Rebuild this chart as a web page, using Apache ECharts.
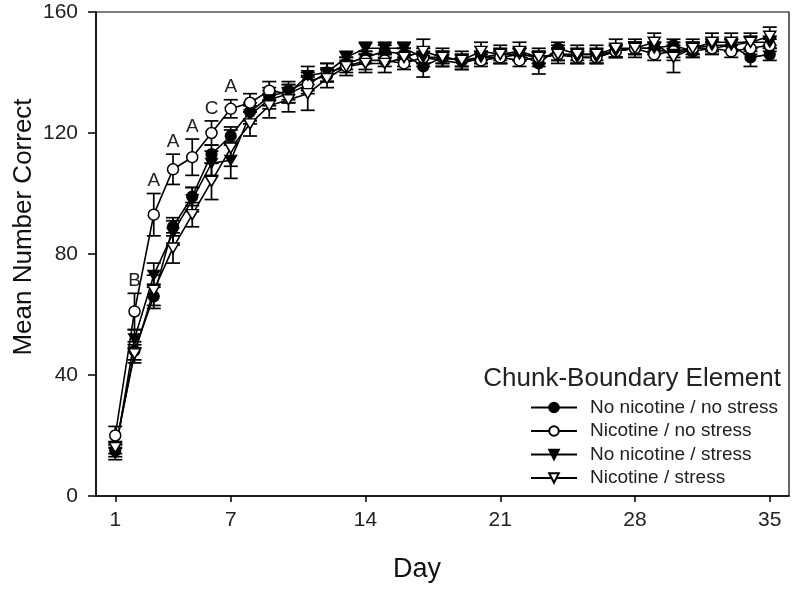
<!DOCTYPE html>
<html>
<head>
<meta charset="utf-8">
<script src="https://cdn.jsdelivr.net/npm/echarts@6/dist/echarts.min.js"></script>
<style>
  html, body { margin: 0; padding: 0; background: #fff; }
  #chart { width: 800px; height: 592px; }
</style>
</head>
<body>
<div id="chart"></div>
<script>
// days 1..35
var days = [];
for (var d = 1; d <= 35; d++) days.push(d);

var xTicks = [1, 7, 14, 21, 28, 35];

// means
var noNicNoStress = [15, 48, 66, 89, 99, 113, 119, 127, 132, 134, 137, 139, 143, 145, 147, 146, 142, 145, 144, 145,
  145, 146, 143, 148, 146, 146, 147, 148, 148, 149, 147, 148, 149, 145, 146];
var nicNoStress = [20, 61, 93, 108, 112, 120, 128, 130, 134, 133, 136, 140, 142, 144, 144, 143, 145, 145, 144, 144,
  145, 144, 145, 146, 145, 145, 147, 148, 146, 147, 148, 148, 147, 148, 149];
var noNicStress = [14, 52, 73, 87, 98, 110, 111, 126, 131, 133, 139, 140, 145, 148, 148, 148, 145, 144, 143, 145,
  146, 146, 145, 146, 145, 145, 147, 148, 148, 146, 148, 149, 149, 150, 150];
var nicStress = [16, 47, 68, 82, 93, 104, 115, 123, 129, 131, 133, 138, 142, 143, 143, 145, 147, 145, 144, 147,
  146, 147, 145, 146, 146, 146, 148, 148, 150, 145, 148, 150, 150, 150, 152];

// error bar half lengths (SEM)
var semNoNicNoStress = [2, 3, 4, 3, 3, 3, 3, 3, 3, 3, 3, 2, 2, 2, 2, 2, 3.5, 2, 2, 2, 2, 2, 3.5, 2, 2, 2, 2, 2, 2, 2, 2, 2, 2, 3, 2];
var semNicNoStress = [3, 6, 7, 5, 6, 4, 3, 3, 3, 3, 3, 3, 2, 3, 2, 2, 2, 2, 2, 2, 2, 2, 2, 2, 2, 2, 2, 2, 2, 2, 2, 2, 2, 2, 2];
var semNoNicStress = [2, 3, 4, 4, 4, 4, 6, 3, 3, 3, 3, 3, 2, 2, 2, 2, 3, 2, 2, 2, 2, 2, 2, 2, 2, 2, 2, 2, 2, 2, 2, 2, 2, 2, 2];
var semNicStress = [2, 3, 5, 5, 4, 6, 6, 4, 4, 4, 5.5, 3, 3, 3, 3, 3, 4, 3, 3, 3, 3, 3, 3, 3, 3, 3, 3, 3, 3, 5, 3, 3, 3, 3, 3];

// significance letters over the nicotine / no stress curve
var sigDays = [2, 3, 4, 5, 6, 7];
var sigLetters = ['B', 'A', 'A', 'A', 'C', 'A'];

var FONT = 'Liberation Sans, Arial, sans-serif';
var downTri = 'path://M0,0L10,0L5,8.66Z';

function pairs(vals) {
  return days.map(function (d, i) { return [d, vals[i]]; });
}
function triples(vals, sem) {
  return days.map(function (d, i) { return [d, vals[i], sem[i]]; });
}

function errorSeries(vals, sem, letters) {
  return {
    type: 'custom',
    z: 1,
    silent: true,
    encode: { x: 0, y: 1 },
    data: triples(vals, sem),
    renderItem: function (params, api) {
      var x = api.value(0), m = api.value(1), e = api.value(2);
      var top = api.coord([x, m + e]);
      var bot = api.coord([x, m - e]);
      var hw = 7;
      var st = { stroke: '#000', lineWidth: 1.7 };
      var children = [
        { type: 'line', shape: { x1: top[0], y1: top[1], x2: bot[0], y2: bot[1] }, style: st },
        { type: 'line', shape: { x1: top[0] - hw, y1: top[1], x2: top[0] + hw, y2: top[1] }, style: st },
        { type: 'line', shape: { x1: bot[0] - hw, y1: bot[1], x2: bot[0] + hw, y2: bot[1] }, style: st }
      ];
      if (letters) {
        var k = sigDays.indexOf(x);
        if (k >= 0) {
          children.push({
            type: 'text',
            style: {
              x: top[0], y: top[1] - 3, text: sigLetters[k],
              align: 'center', verticalAlign: 'bottom',
              font: '19px ' + FONT, fill: '#222'
            }
          });
        }
      }
      return { type: 'group', children: children };
    }
  };
}

function lineSeries(name, vals, symbol, filled) {
  return {
    name: name,
    type: 'line',
    z: 3,
    data: pairs(vals),
    symbol: symbol,
    symbolSize: symbol === 'circle' ? 11 : [12, 10],
    showAllSymbol: true,
    lineStyle: { color: '#000', width: 1.6 },
    itemStyle: filled
      ? { color: '#000', borderColor: '#000', borderWidth: 1.2 }
      : { color: '#fff', borderColor: '#000', borderWidth: 1.5 },
    emphasis: { disabled: true }
  };
}

var chart = echarts.init(document.getElementById('chart'));
chart.setOption({
  animation: false,
  backgroundColor: '#fff',
  textStyle: { fontFamily: FONT },
  title: {
    text: 'Chunk-Boundary Element',
    right: 14,
    top: 361,
    textStyle: { fontSize: 26, fontWeight: 'normal', color: '#222', fontFamily: FONT }
  },
  legend: {
    orient: 'vertical',
    left: 525,
    top: 393,
    itemWidth: 46,
    itemHeight: 12,
    itemGap: 4.5,
    textStyle: { fontSize: 19, color: '#222', fontFamily: FONT, padding: [0, 0, 0, 8] },
    data: ['No nicotine / no stress', 'Nicotine / no stress', 'No nicotine / stress', 'Nicotine / stress']
  },
  grid: {
    left: 96, right: 11, top: 12, bottom: 96,
    show: true, borderColor: '#000', borderWidth: 1.2
  },
  xAxis: {
    type: 'value',
    min: 0,
    max: 36,
    splitLine: { show: false },
    axisLine: { lineStyle: { color: '#000', width: 1.5 } },
    axisTick: { customValues: xTicks, length: 6, lineStyle: { color: '#000', width: 1.5 } },
    axisLabel: { customValues: xTicks, fontSize: 21, color: '#222', margin: 14, fontFamily: FONT }
  },
  yAxis: {
    type: 'value',
    min: 0,
    max: 160,
    interval: 40,
    splitLine: { show: false },
    axisLine: { show: true, lineStyle: { color: '#000', width: 1.5 } },
    axisTick: { show: true, length: 8, lineStyle: { color: '#000', width: 1.5 } },
    axisLabel: { fontSize: 21, color: '#222', margin: 18, fontFamily: FONT }
  },
  graphic: [
    {
      type: 'text', x: 24, y: 227, rotation: Math.PI / 2,
      style: { text: 'Mean Number Correct', font: '26px ' + FONT, fill: '#111', align: 'center', verticalAlign: 'middle' }
    },
    {
      type: 'text', x: 417, y: 570,
      style: { text: 'Day', font: '27px ' + FONT, fill: '#111', align: 'center', verticalAlign: 'middle' }
    }
  ],
  series: [
    errorSeries(noNicNoStress, semNoNicNoStress, false),
    errorSeries(nicNoStress, semNicNoStress, true),
    errorSeries(noNicStress, semNoNicStress, false),
    errorSeries(nicStress, semNicStress, false),
    lineSeries('No nicotine / no stress', noNicNoStress, 'circle', true),
    lineSeries('Nicotine / no stress', nicNoStress, 'circle', false),
    lineSeries('No nicotine / stress', noNicStress, downTri, true),
    lineSeries('Nicotine / stress', nicStress, downTri, false)
  ]
});
</script>
</body>
</html>
